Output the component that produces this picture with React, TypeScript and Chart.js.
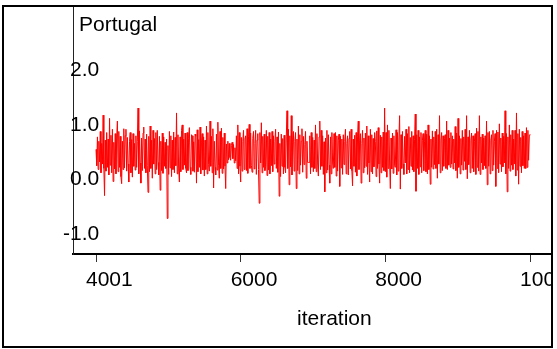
import React, { useEffect, useRef } from "react";
import { Chart, registerables } from "chart.js";

Chart.register(...registerables);

const traceValues: number[] = [
  0.55, 0.25, 0.78, 0.18, 0.70, 0.32, 0.88, 0.12, 0.66, 0.28, 1.18, 0.20, -0.30, 0.72,
  0.15, 0.86, 0.22, 0.74, 0.08, 1.12, 0.26, 0.81, 0.12, 0.92, -0.04, 0.68, 0.19, 0.84,
  0.10, 0.76, 1.07, 0.14, 0.88, 0.22, 0.79, 0.05, -0.08, 0.70, 0.18, 0.93, 0.21, 0.80,
  0.92, 0.15, 0.77, 0.28, -0.05, 0.69, 0.86, 0.12, 0.73, 0.04, 0.84, 0.24, 0.66, 0.17,
  0.80, 0.22, 0.70, 1.31, 0.10, 0.89, 0.30, -0.07, 0.76, 0.16, 0.85, 0.96, 0.20, 0.74,
  0.12, 0.83, 0.26, -0.24, 0.79, 0.14, 0.98, 0.20, 0.72, 0.02, 0.90, 0.28, 0.75, 0.10,
  0.86, 0.18, 0.90, 0.31, 0.08, 0.79, -0.20, 0.70, 0.16, 0.85, 0.11, 0.78, 0.24, 0.68,
  0.20, 0.74, -0.72, 0.62, 0.09, 0.88, 0.21, 0.80, 0.05, 0.72, 0.18, 0.87, 0.12, 0.77,
  0.25, 1.22, 0.10, 0.82, 0.19, -0.05, 0.78, 0.14, 0.90, 1.00, 0.18, 0.74, 0.26, 0.85,
  0.20, 0.12, 0.86, 0.16, 0.75, 0.95, 0.22, 0.09, 0.82, 0.80, 0.15, 0.69, 0.13, 0.83,
  0.79, -0.07, 0.91, 0.14, 0.73, 0.22, 0.96, 0.10, 0.67, 0.84, 0.17, 0.78, 0.06, 0.72,
  0.18, 0.98, 0.10, 0.86, 0.27, 0.15, 1.07, 0.24, 0.79, 0.12, 0.93, -0.16, 0.70, 0.22,
  0.08, 0.83, 0.17, 1.05, 0.26, 0.02, 0.88, 0.20, 0.94, 0.11, 0.77, 0.19, 0.85, 0.24,
  -0.17, 0.65, 0.30, 0.70, 0.36, 0.66, 0.40, 0.35, 0.62, 0.68, 0.38, 0.64, 0.30, 0.58,
  0.34, 0.80, 0.20, 1.00, 0.10, 0.86, 0.24, -0.05, 0.77, 0.15, 0.70, 0.90, 0.18, 0.74,
  0.80, 0.16, 0.93, 0.11, 0.78, 1.01, 0.20, 0.85, 0.26, 0.13, 0.75, 0.88, 0.19, 0.66,
  0.90, 0.09, 0.72, 0.84, 0.18, -0.44, 0.86, 0.30, 1.04, 0.12, 0.79, 0.22, 0.83, 0.16,
  0.24, 0.90, 0.07, 0.79, 0.17, 0.86, 0.10, 0.74, 0.25, 0.88, 0.14, 0.80, 0.28, 0.70,
  0.92, 0.20, 0.78, 0.13, 0.87, -0.31, 0.66, 0.05, 0.83, 0.24, 0.75, 0.10, 0.81, 0.22,
  0.12, 0.78, 1.26, 0.20, 0.92, -0.10, 0.80, 0.23, 1.17, 0.08, 0.74, 0.88, 0.15, 0.70,
  0.86, -0.17, 0.74, 0.16, 0.98, 0.10, 0.82, 0.26, 0.70, 0.93, 0.13, 0.79, 0.27, 0.64,
  0.88, 0.02, 0.70, 0.31, 0.31, 0.31, 0.80, 0.10, 0.86, 0.22, 0.77, 0.14, 0.72, 0.20,
  1.00, 0.14, 0.84, 0.30, 0.06, 0.78, 1.07, 0.18, 0.90, 0.24, 0.80, 0.09, 0.69, -0.23,
  0.76, 0.12, 0.90, 0.17, 0.82, 0.26, -0.07, 0.78, 0.10, 0.86, 0.30, 0.20, 0.84, 0.22,
  0.86, 0.06, 0.80, 0.15, 0.72, 0.83, -0.13, 0.79, 0.21, 0.74, 0.09, 0.82, 0.27, 0.70,
  0.92, 0.10, 0.66, 0.80, 0.08, 0.75, 0.88, 0.19, 0.92, 0.16, -0.12, 0.74, 0.24, 0.81,
  0.13, 0.86, 0.06, 0.78, 1.07, 0.18, 0.72, 0.84, -0.07, 0.66, 0.90, 0.12, 0.76, 0.21,
  0.85, 0.24, 0.98, 0.09, 0.80, 0.30, -0.05, 0.92, 0.14, 0.82, 0.10, 0.75, 0.23, 0.86,
  0.70, 0.05, 0.89, 0.20, 0.95, 0.28, -0.07, 0.81, 0.12, 0.78, 0.22, 0.87, 0.16, 1.31,
  0.14, 0.86, 0.04, 1.00, 0.20, 0.90, 0.30, -0.17, 0.76, 0.19, 0.85, 0.11, 0.80, 0.25,
  0.22, 0.91, 0.08, 0.86, 0.15, 0.74, 1.17, -0.18, 0.82, 0.20, 0.88, 0.28, 0.09, 0.79,
  0.30, 0.92, 0.10, 0.84, 0.18, 0.97, 0.12, 0.77, 0.24, 0.88, 0.17, 0.80, 0.14, 0.73,
  1.20, -0.22, 0.82, 0.20, 0.90, 0.09, 0.78, 0.23, 0.86, 0.12, 0.72, 0.84, 0.16, 0.70,
  0.90, 0.14, 0.83, 0.10, 1.00, 0.18, 0.80, -0.09, 0.74, 0.22, 0.89, 0.19, 0.78, 0.27,
  0.88, 0.20, 0.92, 0.02, 0.82, 0.28, 1.17, 0.12, 0.72, 0.86, 0.16, 0.80, 0.24, 0.75,
  0.82, 0.20, 1.07, 0.18, 0.90, 0.26, 0.76, 0.22, 0.86, 0.28, 0.80, 0.19, 0.74, 0.30,
  0.97, 0.16, 0.85, 0.02, 1.12, 0.22, 0.80, 0.10, 0.75, 0.26, 0.90, 0.17, 0.78, 0.33,
  0.92, 0.18, 1.17, 0.01, 0.78, 0.27, 0.90, 0.12, 0.72, 0.85, 0.20, 0.80, 0.14, 0.70,
  0.84, 0.09, 0.94, 0.22, 0.88, 0.15, 1.17, 0.09, 0.78, 0.30, 0.83, 0.18, 0.76, 0.25,
  0.80, 0.20, 1.07, -0.10, 0.86, 0.24, 0.88, 0.10, 0.72, 0.82, 0.16, 0.90, 0.26, 0.70,
  0.84, -0.13, 0.90, 0.20, 0.87, 0.12, 1.02, 0.28, 0.76, 0.14, 0.85, 0.23, 0.79, 0.30,
  1.26, 0.10, 0.84, -0.23, 0.78, 0.20, 1.00, 0.15, 0.82, 0.26, 0.90, 0.18, 0.74, 0.28,
  0.90, 0.06, 1.22, 0.17, 0.84, -0.09, 0.92, 0.24, 0.77, 0.12, 0.88, 0.25, 0.80, 0.20,
  0.85, 0.20, 0.95, 0.22, 0.90, 0.35, 0.78, 0.83,
];

const iterationStart = 4001;
const iterationEnd = 10000;
const xTickValues = [4001, 6000, 8000, 10000];
const yTickValues = [-1, 0, 1, 2];
const panelTitle = "Portugal";
const xAxisTitle = "iteration";

const FONT_FAMILY = '"Liberation Sans", Arial, sans-serif';

export default function App() {
  const canvasRef = useRef<HTMLCanvasElement | null>(null);

  useEffect(() => {
    const canvas = canvasRef.current;
    if (!canvas) return;

    const n = traceValues.length;
    const points = traceValues.map((v, i) => ({
      x: iterationStart + (i * (iterationEnd - iterationStart)) / (n - 1),
      y: v,
    }));

    const framePlugin = {
      id: "frame",
      afterDraw(chart: any) {
        const ctx = chart.ctx;
        ctx.save();
        ctx.fillStyle = "#ffffff";
        ctx.fillRect(552, 0, 10, chart.height);
        ctx.fillStyle = "#000000";
        ctx.textAlign = "left";
        ctx.textBaseline = "alphabetic";
        ctx.font = `21px ${FONT_FAMILY}`;
        ctx.fillText(panelTitle, 79, 31);
        ctx.fillText(xAxisTitle, 297, 325);
        ctx.strokeStyle = "#000000";
        ctx.lineWidth = 2;
        ctx.strokeRect(3, 6, 549, 341);
        ctx.restore();
      },
    };

    const chart = new Chart(canvas, {
      type: "line",
      data: {
        datasets: [
          {
            data: points,
            borderColor: "rgb(255,0,0)",
            borderWidth: 1,
            pointRadius: 0,
            tension: 0,
            fill: false,
          },
        ],
      },
      options: {
        animation: false,
        responsive: false,
        devicePixelRatio: 1,
        layout: { padding: { left: 0, top: 6, right: 6, bottom: 0 } },
        plugins: {
          legend: { display: false },
          tooltip: { enabled: false },
          title: { display: false },
        },
        scales: {
          x: {
            type: "linear",
            min: 3683,
            max: 10290,
            afterBuildTicks: (s: any) => {
              s.ticks = xTickValues.map((v) => ({ value: v }));
            },
            afterFit: (s: any) => {
              s.height = 95;
              s.paddingLeft = 0;
              s.paddingRight = 0;
            },
            ticks: {
              align: "start",
              labelOffset: -10,
              padding: 6,
              autoSkip: false,
              maxRotation: 0,
              color: "#000",
              font: { family: FONT_FAMILY, size: 21 },
              callback: (v: any) => String(v),
            },
            grid: {
              drawOnChartArea: false,
              drawTicks: true,
              tickLength: 8,
              color: "#333",
              lineWidth: 1,
            },
            border: { color: "#000", width: 2 },
          },
          y: {
            type: "linear",
            min: -1.373,
            max: 3.186,
            afterBuildTicks: (s: any) => {
              s.ticks = yTickValues.map((v) => ({ value: v }));
            },
            afterFit: (s: any) => {
              s.width = 73;
              s.paddingTop = 0;
              s.paddingBottom = 0;
            },
            ticks: {
              mirror: true,
              crossAlign: "far",
              padding: -10,
              color: "#000",
              font: { family: FONT_FAMILY, size: 21 },
              callback: (v: any) => Number(v).toFixed(1),
            },
            grid: { display: false },
            border: { color: "#222", width: 1 },
          },
        },
      },
      plugins: [framePlugin],
    } as any);

    return () => chart.destroy();
  }, []);

  return (
    <div style={{ position: "absolute", left: 0, top: 0, width: 557, height: 349, background: "#fff" }}>
      <canvas ref={canvasRef} width={557} height={349} style={{ display: "block" }} />
    </div>
  );
}
